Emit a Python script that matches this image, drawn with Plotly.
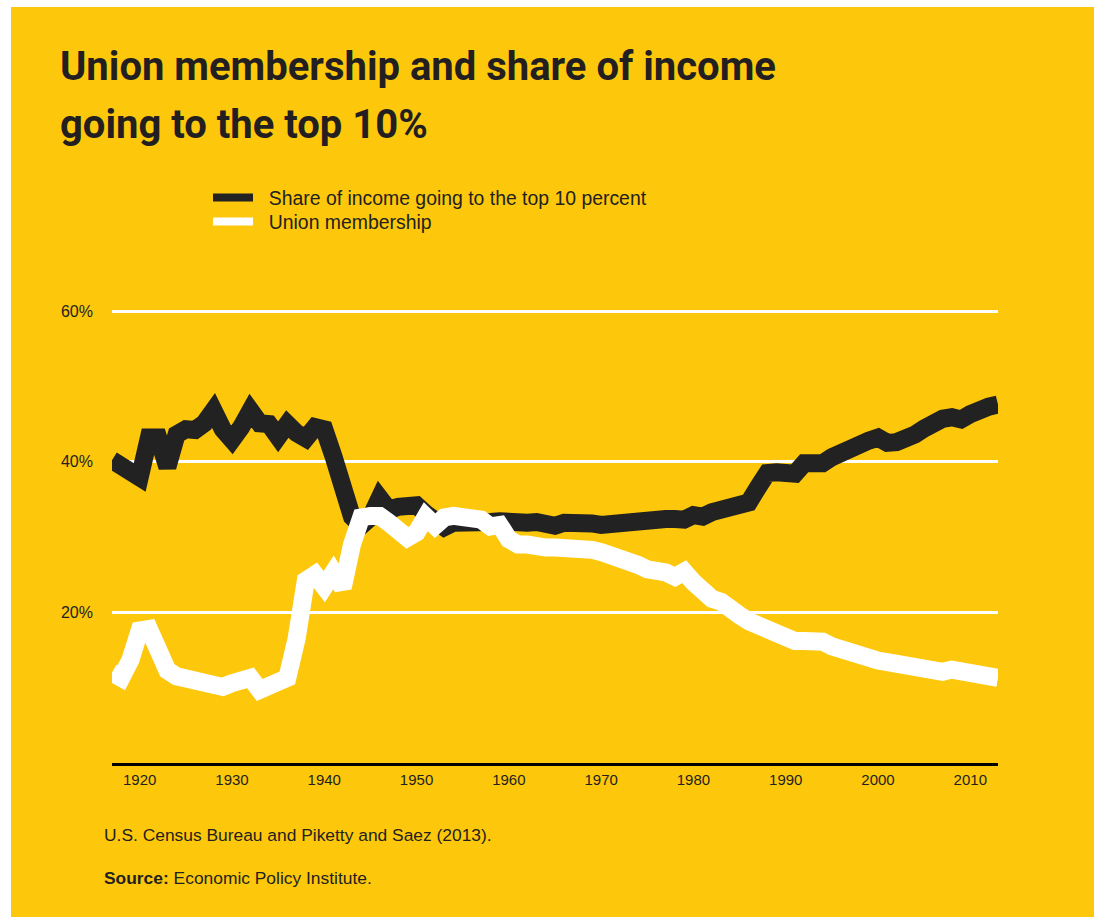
import plotly.graph_objects as go

# ---- data -------------------------------------------------------------
years = list(range(1917, 2014))

top10_share = [
    40.2, 39.6, 38.9, 37.9, 43.2, 43.2, 39.3, 43.6, 44.3, 44.2,   # 1917-1926
    45.1, 46.8, 44.3, 42.9, 44.6, 46.8, 45.1, 45.0, 43.3, 45.0,   # 1927-1936
    43.8, 43.1, 44.6, 44.3, 40.7, 35.5, 32.7, 31.5, 32.6, 35.2,   # 1937-1946
    33.6, 34.0, 34.1, 34.2, 33.1, 32.0, 31.3, 31.9, 31.8, 31.8,   # 1947-1956
    32.1, 32.0, 32.1, 31.9, 31.9, 31.9, 32.0, 31.7, 31.5, 31.9,   # 1957-1966
    32.0, 31.9, 31.8, 31.6, 31.8, 31.6, 32.0, 32.4, 32.6, 32.4,   # 1967-1976
    32.4, 32.4, 32.3, 32.9, 32.7, 33.3, 33.6, 33.8, 34.1, 34.6,   # 1977-1986
    36.6, 38.5, 38.6, 38.8, 38.4, 39.8, 39.6, 39.8, 40.6, 41.3,   # 1987-1996
    41.8, 42.2, 42.8, 43.2, 42.5, 42.6, 42.9, 43.6, 44.4, 45.4,   # 1997-2006
    45.7, 45.9, 45.6, 46.3, 47.0, 47.3, 47.6,                     # 2007-2013
]

union_membership = [
    12.0, 11.3, 13.7, 17.6, 17.8, 14.6, 12.3, 11.5, 11.1, 10.8,   # 1917-1926
    10.6, 10.5, 10.1, 10.6, 11.2, 11.3, 9.7, 10.3, 10.7, 11.3,    # 1927-1936
    16.5, 24.2, 25.0, 23.4, 25.3, 23.3, 29.0, 32.6, 32.8, 32.8,   # 1937-1946
    31.9, 31.1, 29.9, 30.6, 32.7, 31.5, 32.6, 32.8, 32.8, 32.8,   # 1947-1956
    32.3, 31.4, 31.6, 29.7, 29.0, 29.0, 28.6, 28.6, 28.6, 28.6,   # 1957-1966
    28.6, 28.5, 28.3, 28.0, 27.6, 27.6, 27.0, 26.3, 25.7, 25.7,   # 1967-1976
    25.3, 24.7, 25.4, 24.0, 22.8, 21.8, 21.4, 20.2, 19.6, 18.8,   # 1977-1986
    18.2, 17.7, 17.3, 16.8, 16.2, 16.2, 16.2, 16.1, 15.5, 15.0,   # 1987-1996
    14.7, 14.3, 14.0, 13.6, 13.4, 13.2, 12.8, 12.5, 12.4, 12.1,   # 1997-2006
    12.1, 12.4, 12.1, 11.8, 11.7, 11.3, 11.3,                     # 2007-2013
]

series_names = ["Share of income going to the top 10 percent", "Union membership"]

x_ticks = [1920, 1930, 1940, 1950, 1960, 1970, 1980, 1990, 2000, 2010]
y_ticks = [20, 40, 60]
y_tick_text = ["20%", "40%", "60%"]

title_lines = ["Union membership and share of income", "going to the top 10%"]
note_text = "U.S. Census Bureau and Piketty and Saez (2013)."
source_label = "Source:"
source_text = " Economic Policy Institute."

# ---- styling ----------------------------------------------------------
W, H = 1094, 917
L, R, T, B = 112, 998, 309, 763          # plot area in pixels
Y_MAX = 60.27                            # a little headroom so the 60% grid line shows
YELLOW = "#FDC70C"
INK = "#231F20"
DARK = "#222222"
BODY_FONT = "Liberation Sans, Arial, Helvetica, sans-serif"
TITLE_FONT = "Roboto, Liberation Sans, sans-serif"


def px(xp):
    return (xp - L) / (R - L)


def py(yp):
    return (B - yp) / (B - T)


fig = go.Figure()

# thick data lines (union membership drawn on top)
fig.add_trace(go.Scatter(x=years, y=top10_share, mode="lines",
                         line=dict(color=DARK, width=18),
                         showlegend=False, hoverinfo="skip"))
fig.add_trace(go.Scatter(x=years, y=union_membership, mode="lines",
                         line=dict(color="#FFFFFF", width=18),
                         showlegend=False, hoverinfo="skip"))

# legend keys, one legend box per row so the rows sit tight together
fig.add_trace(go.Scatter(x=[None], y=[None], mode="lines", legend="legend",
                         name="\u00a0\u00a0" + series_names[0],
                         line=dict(color=DARK, width=8)))
fig.add_trace(go.Scatter(x=[None], y=[None], mode="lines", legend="legend2",
                         name="\u00a0\u00a0" + series_names[1],
                         line=dict(color="#FFFFFF", width=8)))

# yellow card behind everything
fig.add_shape(type="rect", xref="paper", yref="paper",
              x0=px(11), x1=px(W + 5), y0=py(H + 5), y1=py(7),
              fillcolor=YELLOW, line=dict(width=0), layer="below")

annotations = [
    dict(text="<b>" + title_lines[0] + "</b>", x=px(58), y=py(41),
         xanchor="left", yanchor="top",
         font=dict(family=TITLE_FONT, size=40, color=INK)),
    dict(text="<b>" + title_lines[1] + "</b>", x=px(58), y=py(99),
         xanchor="left", yanchor="top",
         font=dict(family=TITLE_FONT, size=40, color=INK)),
    dict(text=note_text, x=px(102), y=py(835), xanchor="left", yanchor="middle",
         font=dict(family=BODY_FONT, size=17.4, color=INK)),
    dict(text="<b>" + source_label + "</b>" + source_text, x=px(102), y=py(878),
         xanchor="left", yanchor="middle",
         font=dict(family=BODY_FONT, size=17.4, color=INK)),
]
for a in annotations:
    a.update(xref="paper", yref="paper", showarrow=False, align="left")

legend_style = dict(xanchor="left", yanchor="middle", bgcolor="rgba(0,0,0,0)",
                    itemwidth=40, itemclick=False, itemdoubleclick=False,
                    font=dict(family=BODY_FONT, size=19.4, color=INK))

fig.update_layout(
    width=W, height=H,
    margin=dict(l=L, r=W - R, t=T, b=H - B, pad=0),
    paper_bgcolor="#FFFFFF",
    plot_bgcolor="rgba(0,0,0,0)",
    font=dict(family=BODY_FONT, color=INK),
    showlegend=True,
    legend=dict(x=px(208), y=py(198), **legend_style),
    legend2=dict(x=px(208), y=py(222), **legend_style),
    annotations=annotations,
    xaxis=dict(range=[1917, 2013], tickvals=x_ticks, showgrid=False,
               zeroline=False, showline=True, linecolor="#000000", linewidth=3,
               ticks="", tickfont=dict(size=15, color=INK), ticklabelstandoff=1),
    yaxis=dict(range=[0, Y_MAX], tickvals=y_ticks, ticktext=y_tick_text,
               showgrid=True, gridcolor="#FFFFFF", gridwidth=3,
               zeroline=False, showline=False, ticks="",
               tickfont=dict(size=16, color=INK), ticklabelstandoff=18),
)

fig.write_html("out.html")
